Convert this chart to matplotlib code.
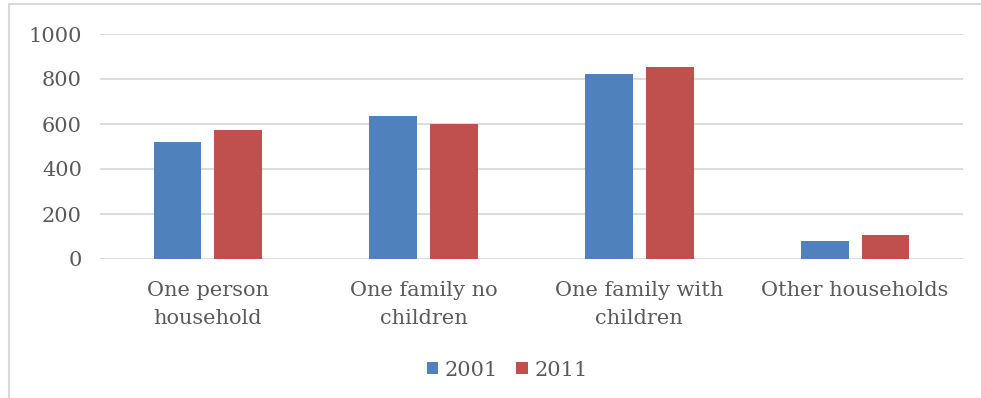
import matplotlib
matplotlib.use("Agg")
import matplotlib.pyplot as plt
from matplotlib.patches import Rectangle
import numpy as np

categories = ["One person\nhousehold", "One family no\nchildren",
              "One family with\nchildren", "Other households"]
series_names = ["2001", "2011"]
values_2001 = [520, 635, 821, 81]
values_2011 = [573, 600, 852, 107]
y_ticks = [0, 200, 400, 600, 800, 1000]

colors = ["#4f81bd", "#c0504d"]
text_color = "#595959"
grid_color = "#d9d9d9"

plt.rcParams["font.family"] = ["DejaVu Serif"]

W, H = 981, 398
fig = plt.figure(figsize=(W / 100, H / 100), dpi=100)

# outer chart frame
fig.patches.append(Rectangle((9 / W, -0.1), 1.1, (H - 4) / H + 0.1,
                             transform=fig.transFigure, fill=False,
                             edgecolor=grid_color, linewidth=1.5))

left, right = 100 / W, 963 / W
bottom, top = 1 - 259 / H, 1 - 34 / H
ax = fig.add_axes([left, bottom, right - left, top - bottom])

x = np.arange(len(categories))
width = 0.222
gap = 0.06
offset = (width + gap) / 2
bars1 = ax.bar(x - offset, values_2001, width, color=colors[0],
               label=series_names[0], zorder=3)
bars2 = ax.bar(x + offset, values_2011, width, color=colors[1],
               label=series_names[1], zorder=3)

ax.set_xlim(-0.5, len(categories) - 0.5)
ax.set_ylim(0, 1000)
ax.set_yticks(y_ticks)
ax.set_yticklabels([str(t) for t in y_ticks])
ax.yaxis.grid(True, color=grid_color, linewidth=1.3, zorder=0)
ax.set_axisbelow(True)
for s in ax.spines.values():
    s.set_visible(False)
ax.tick_params(axis="y", length=0, pad=13, labelsize=15, labelcolor=text_color)
ax.tick_params(axis="x", length=0, pad=16, labelsize=15, labelcolor=text_color)
ax.set_xticks(x)
ax.set_xticklabels(categories, linespacing=1.6)

leg = fig.legend(handles=[bars1, bars2], labels=series_names,
                 loc="center", bbox_to_anchor=(507 / W, 1 - 370 / H),
                 ncol=2, frameon=False, fontsize=15,
                 handlelength=0.55, handleheight=0.55, handletextpad=0.3,
                 columnspacing=0.9, labelcolor=text_color)

fig.savefig("out.png", dpi=100)
